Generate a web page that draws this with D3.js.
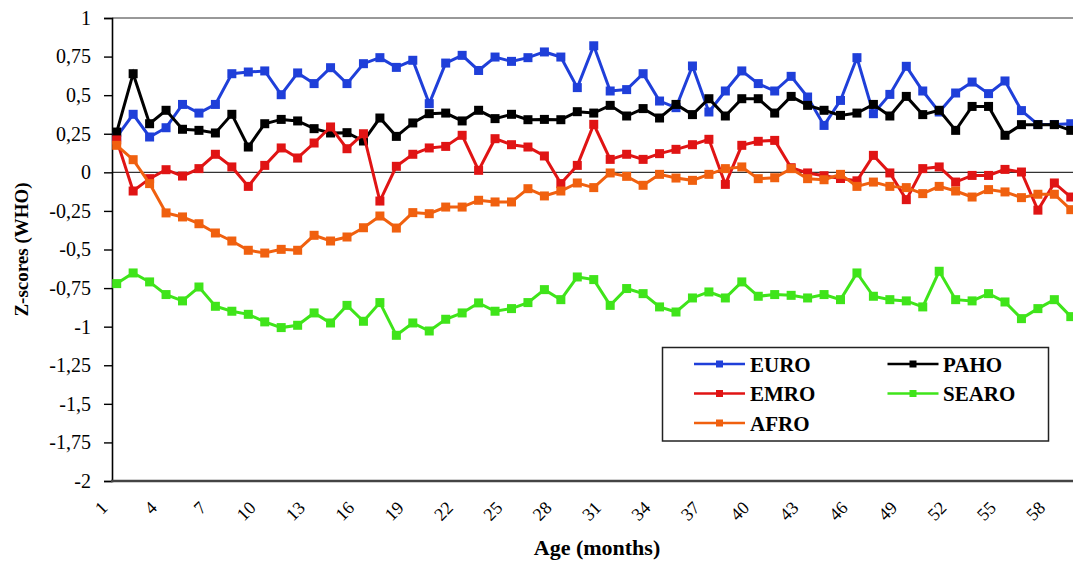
<!DOCTYPE html>
<html><head><meta charset="utf-8">
<script src="https://cdn.jsdelivr.net/npm/d3@7"></script>
<style>body{margin:0;background:#fff;}</style>
</head><body>
<svg id="chart" width="1073" height="561"></svg>
<script>
const months = [1,2,3,4,5,6,7,8,9,10,11,12,13,14,15,16,17,18,19,20,21,22,23,24,25,26,27,28,29,30,31,32,33,34,35,36,37,38,39,40,41,42,43,44,45,46,47,48,49,50,51,52,53,54,55,56,57,58,59];
const euro  = [0.23,0.376,0.229,0.289,0.44,0.384,0.44,0.639,0.65,0.657,0.503,0.644,0.575,0.678,0.575,0.704,0.743,0.68,0.726,0.445,0.708,0.758,0.66,0.747,0.719,0.743,0.78,0.747,0.549,0.82,0.527,0.536,0.639,0.462,0.419,0.689,0.391,0.527,0.657,0.575,0.527,0.622,0.488,0.304,0.466,0.743,0.38,0.505,0.687,0.527,0.391,0.514,0.585,0.51,0.592,0.40,0.31,0.31,0.315];
const paho  = [0.261,0.639,0.315,0.402,0.279,0.272,0.255,0.376,0.164,0.315,0.343,0.333,0.283,0.255,0.257,0.203,0.352,0.233,0.32,0.38,0.384,0.333,0.402,0.348,0.376,0.341,0.343,0.341,0.393,0.384,0.434,0.365,0.413,0.352,0.44,0.374,0.477,0.365,0.477,0.477,0.384,0.492,0.434,0.402,0.369,0.384,0.44,0.365,0.492,0.374,0.402,0.272,0.427,0.427,0.24,0.309,0.309,0.309,0.272];
const emro  = [0.21,-0.121,-0.041,0.017,-0.024,0.024,0.117,0.035,-0.091,0.045,0.158,0.093,0.19,0.294,0.153,0.25,-0.186,0.039,0.117,0.158,0.168,0.24,0.013,0.218,0.179,0.164,0.106,-0.073,0.045,0.311,0.084,0.117,0.084,0.121,0.149,0.179,0.214,-0.078,0.175,0.201,0.207,0.03,-0.004,-0.022,-0.04,-0.055,0.11,-0.004,-0.177,0.024,0.035,-0.063,-0.02,-0.02,0.019,0.002,-0.245,-0.069,-0.16];
const searo = [-0.721,-0.652,-0.71,-0.792,-0.833,-0.743,-0.868,-0.9,-0.92,-0.969,-1.006,-0.991,-0.911,-0.976,-0.862,-0.965,-0.844,-1.056,-0.976,-1.028,-0.952,-0.911,-0.846,-0.9,-0.883,-0.844,-0.76,-0.825,-0.678,-0.695,-0.862,-0.753,-0.786,-0.872,-0.905,-0.814,-0.775,-0.814,-0.71,-0.803,-0.792,-0.797,-0.814,-0.792,-0.825,-0.652,-0.803,-0.825,-0.833,-0.872,-0.641,-0.825,-0.833,-0.786,-0.84,-0.948,-0.883,-0.825,-0.935];
const afro  = [0.175,0.082,-0.073,-0.263,-0.289,-0.333,-0.393,-0.445,-0.505,-0.523,-0.499,-0.505,-0.408,-0.445,-0.419,-0.359,-0.283,-0.361,-0.261,-0.268,-0.225,-0.225,-0.181,-0.192,-0.192,-0.106,-0.153,-0.121,-0.069,-0.099,-0.004,-0.026,-0.084,-0.013,-0.037,-0.052,-0.013,0.024,0.035,-0.041,-0.035,0.024,-0.041,-0.048,-0.013,-0.091,-0.063,-0.091,-0.099,-0.138,-0.091,-0.121,-0.16,-0.112,-0.127,-0.164,-0.142,-0.142,-0.242];

const seriesNames = ["EURO","PAHO","EMRO","SEARO","AFRO"];
const seriesColors = ["#1f3fd9","#000000","#e01414","#3fe41a","#f0600f"];
const seriesValues = [euro, paho, emro, searo, afro];

const xTickMonths = [1,4,7,10,13,16,19,22,25,28,31,34,37,40,43,46,49,52,55,58];
const yTickValues = [1,0.75,0.5,0.25,0,-0.25,-0.5,-0.75,-1,-1.25,-1.5,-1.75,-2];
const yTickLabels = ["1","0,75","0,5","0,25","0","-0,25","-0,5","-0,75","-1","-1,25","-1,5","-1,75","-2"];

const svg = d3.select("#chart");
const W = 1073, H = 561;
const plotLeft = 112, plotTop = 18, plotBottom = 481;

const x = d3.scaleLinear().domain([1, 60]).range([116.7, 116.7 + 59 * 16.45]);
const y = d3.scaleLinear().domain([-2, 1]).range([plotBottom, plotTop]);

svg.append("line").attr("x1", plotLeft).attr("x2", W).attr("y1", plotTop).attr("y2", plotTop)
  .attr("stroke", "#333").attr("stroke-width", 1);

svg.append("line").attr("x1", plotLeft).attr("x2", W).attr("y1", y(0)).attr("y2", y(0))
  .attr("stroke", "#333").attr("stroke-width", 1.3);

const yAxis = d3.axisLeft(y).tickValues(yTickValues)
  .tickFormat((d, i) => yTickLabels[i]).tickSize(8).tickPadding(13);
const gy = svg.append("g").attr("transform", `translate(${plotLeft},0)`).call(yAxis);
gy.attr("font-family", null).attr("font-size", 20);
gy.select(".domain").attr("stroke", "#000").attr("stroke-width", 1.6);
gy.selectAll(".tick line").attr("stroke", "#000").attr("stroke-width", 1.4);
gy.selectAll(".tick text").attr("fill", "#000");

svg.append("line").attr("x1", plotLeft - 1).attr("x2", W).attr("y1", plotBottom).attr("y2", plotBottom)
  .attr("stroke", "#444").attr("stroke-width", 2.6);

const gx = svg.append("g");
xTickMonths.forEach(m => {
  const t = gx.append("text")
    .attr("font-size", 18)
    .attr("fill", "#000")
    .text(String(m));
  let len = 9 * String(m).length;
  try { len = t.node().getComputedTextLength() || len; } catch (e) {}
  t.attr("transform", `translate(${x(m) - 8},509) rotate(-45) translate(${-len},0)`);
});

const line = d3.line().x((d, i) => x(months[i])).y(d => y(d));
const gS = svg.append("g");
seriesValues.forEach((vals, si) => {
  const g = gS.append("g");
  g.append("path").datum(vals).attr("d", line)
    .attr("fill", "none").attr("stroke", seriesColors[si]).attr("stroke-width", 3)
    .attr("stroke-linejoin", "miter");
  const ms = 9;
  g.selectAll("rect").data(vals).join("rect")
    .attr("x", (d, i) => x(months[i]) - ms / 2)
    .attr("y", d => y(d) - ms / 2)
    .attr("width", ms).attr("height", ms)
    .attr("fill", seriesColors[si]);
});

svg.append("text")
  .attr("transform", `translate(28,${(plotTop + plotBottom) / 2}) rotate(-90)`)
  .attr("text-anchor", "middle")
  .attr("font-size", 19).attr("font-weight", "bold")
  .text("Z-scores (WHO)");
svg.append("text")
  .attr("x", 597).attr("y", 555)
  .attr("text-anchor", "middle")
  .attr("font-size", 22).attr("font-weight", "bold")
  .text("Age (months)");

const lg = svg.append("g");
lg.append("rect").attr("x", 662.5).attr("y", 347.5).attr("width", 386).attr("height", 93.5)
  .attr("fill", "#fff").attr("stroke", "#222").attr("stroke-width", 1.5);
const legendPos = [
  {lx: 694, tx: 750, ly: 364},
  {lx: 887.5, tx: 943, ly: 364},
  {lx: 694, tx: 750, ly: 393.5},
  {lx: 887.5, tx: 943, ly: 393.5},
  {lx: 694, tx: 750, ly: 423}
];
seriesNames.forEach((name, si) => {
  const p = legendPos[si];
  lg.append("line").attr("x1", p.lx).attr("x2", p.lx + 51).attr("y1", p.ly).attr("y2", p.ly)
    .attr("stroke", seriesColors[si]).attr("stroke-width", 2.6);
  lg.append("rect").attr("x", p.lx + 25.5 - 3.5).attr("y", p.ly - 3.5).attr("width", 7).attr("height", 7)
    .attr("fill", seriesColors[si]);
  lg.append("text").attr("x", p.tx).attr("y", p.ly + 7.5)
    .attr("font-size", 21).attr("font-weight", "bold")
    .attr("fill", "#000")
    .text(name);
});
</script>
</body></html>
